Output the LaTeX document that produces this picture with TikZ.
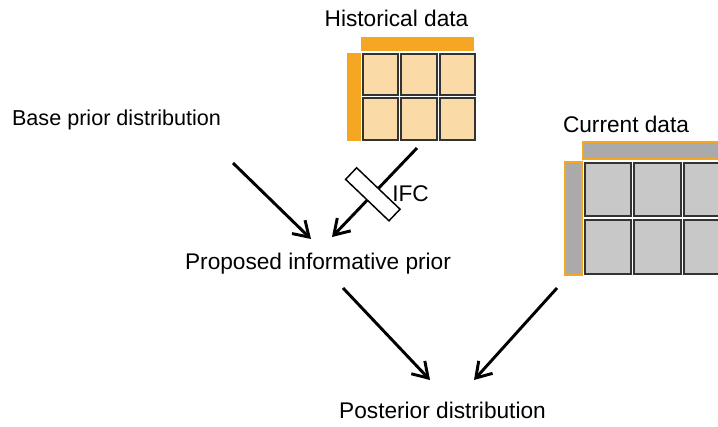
\documentclass[tikz,border=0pt]{standalone}
\usepackage{fontspec}
\setmainfont{Liberation Sans}
\usetikzlibrary{arrows.meta}
\definecolor{histbar}{HTML}{F5A623}
\definecolor{histfill}{HTML}{FADAA6}
\definecolor{curbar}{HTML}{AAAAAA}
\definecolor{curfill}{HTML}{C8C8C8}
\definecolor{cellline}{HTML}{333333}
\begin{document}
\begin{tikzpicture}[x=0.75pt,y=-0.75pt,
  lbl/.style={font=\fontsize{17}{20}\selectfont,inner sep=0pt,anchor=base},
  arr/.style={line width=2.2pt,-{Straight Barb[length=11pt,width=14pt]}},
  histcell/.style={draw=cellline,line width=1.2pt,fill=histfill},
  curcell/.style={draw=cellline,line width=1.2pt,fill=curfill},
  ifcbox/.style={draw,line width=1.1pt,fill=white,minimum width=12,minimum height=45,inner sep=0pt}]
  \useasboundingbox (0,0) rectangle (718,426);
  \clip (0,0) rectangle (718,426);
  % Labels.
  \node[lbl] (hist) at (396.5,26.5) {Historical data};
  \node[lbl,font=\fontsize{16.2}{20}\selectfont] (base) at (116.5,125) {Base prior distribution};
  \node[lbl] (curr) at (626,132) {Current data};
  \node[lbl] (prop) at (318,269) {Proposed informative prior};
  \node[lbl] (post) at (442.5,418) {Posterior distribution};
  % Historical data table.
  \fill[histbar] (361,37) rectangle (474,51);
  \fill[histbar] (347,53) rectangle (361,141);
  \foreach \i in {0,1,2}
    \foreach \j in {0,1}
      \draw[histcell] ({362.75+38.5*\i},{53.75+44.5*\j}) rectangle ++(35.5,41.5);
  % Current data table, running off the right edge.
  \draw[fill=curbar,draw=histbar,line width=0.8pt] (583,142) rectangle (730,159);
  \draw[fill=curbar,draw=histbar,line width=0.8pt] (565,162) rectangle (582,275);
  \foreach \i in {0,1,2}
    \foreach \j in {0,1}
      \draw[curcell] ({584.75+49.5*\i},{162.75+57.5*\j}) rectangle ++(46.5,53.5);
  % Arrow end points.
  \coordinate (baseout) at (233,163);
  \coordinate (histout) at (417,148);
  \coordinate (propin1) at (311,239);
  \coordinate (propin2) at (332,237);
  \coordinate (propout) at (343,288);
  \coordinate (currout) at (557,288);
  \coordinate (postin1) at (430,380);
  \coordinate (postin2) at (474,380);
  \draw[arr] (baseout) -- (propin1);
  \draw[arr] (histout) -- node[ifcbox,sloped,pos=0.52] (ifc) {} (propin2);
  \node[lbl,anchor=base west] (ifclabel) at (392,201) {IFC};
  \draw[arr] (propout) -- (postin1);
  \draw[arr] (currout) -- (postin2);
\end{tikzpicture}
\end{document}
